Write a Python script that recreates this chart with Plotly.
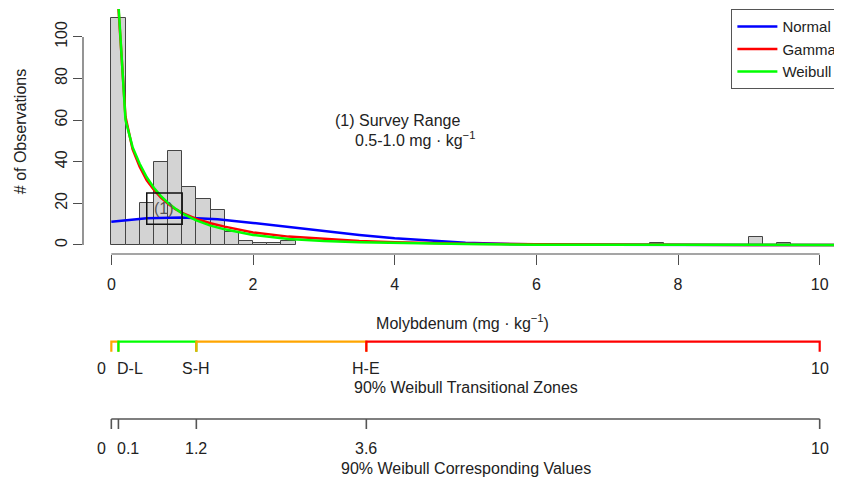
import plotly.graph_objects as go

# ---------------- data ----------------
BIN_W = 0.2
bin_left = [0.0, 0.2, 0.4, 0.6, 0.8, 1.0, 1.2, 1.4, 1.6, 1.8, 2.0, 2.2, 2.4, 7.6, 9.0, 9.4]
counts   = [109, 12, 20, 40, 45, 28, 22, 17, 6, 2, 1, 1, 2, 1, 4, 1]

normal_x = [0, 0.5, 1.0, 1.5, 2.0, 2.5, 3.0, 3.5, 4.0, 4.5, 5.0, 5.5, 6.0, 6.5, 7.0, 8.0, 9.0, 10.3]
normal_y = [11.2, 12.8, 13.2, 12.3, 10.6, 8.6, 6.6, 4.8, 3.2, 2.0, 1.1, 0.55, 0.25, 0.1, 0.04, 0, 0, 0]

skew_x    = [0.1, 0.2, 0.3, 0.4, 0.5, 0.6, 0.7, 0.8, 0.9, 1.0, 1.2, 1.4, 1.6, 1.8, 2.0,
             2.5, 3.0, 3.5, 4.0, 4.5, 5.0, 6.0, 7.0, 8.0, 9.0, 10.3]
gamma_y   = [114, 61.6, 46, 37.6, 31, 26.5, 22.8, 19.8, 17.3, 15.4, 12.5, 10.4, 8.8, 7.3, 6.0,
             4.0, 2.8, 1.9, 1.3, 0.9, 0.6, 0.3, 0.12, 0.05, 0.02, 0]
weibull_y = [116, 60, 47, 39, 32.5, 27.5, 23.5, 20.2, 17.5, 15.2, 11.8, 9.3, 7.5, 6.0, 4.8,
             2.9, 1.9, 1.3, 0.9, 0.6, 0.4, 0.15, 0.06, 0.02, 0.01, 0]

x_ticks = [0, 2, 4, 6, 8, 10]
y_ticks = [0, 20, 40, 60, 80, 100]

survey_range = [0.5, 1.0]        # mg/kg, box (1)
survey_box_counts = [10, 25]

zone_bounds = [0, 0.1, 1.2, 3.6, 10]
zone_colors = ['#FFA500', '#00FF00', '#FFA500', '#FF0000']
zone_labels = ['0', 'D-L', 'S-H', 'H-E', '10']
value_labels = ['0', '0.1', '1.2', '3.6', '10']

# ---------------- figure ----------------
FONT = 'Liberation Sans, Arial, Helvetica, sans-serif'
TXT = '#222222'
AX = '#4d4d4d'
FS = 16
Y_LO, Y_HI = -4.36, 113.4
X_LO, X_HI = -0.4, 10.315
MAIN_BOTTOM = 0.4787

fig = go.Figure()
fig.add_trace(go.Bar(
    x=[b + BIN_W / 2 for b in bin_left], y=counts, width=BIN_W,
    marker=dict(color='#D3D3D3', line=dict(color='#444444', width=1)),
    showlegend=False, hoverinfo='skip'))

fig.add_trace(go.Scatter(x=normal_x, y=normal_y, mode='lines', name='Normal',
                         line=dict(color='#0000FF', width=2.5)))
fig.add_trace(go.Scatter(x=skew_x, y=gamma_y, mode='lines', name='Gamma',
                         line=dict(color='#FF0000', width=2.5)))
fig.add_trace(go.Scatter(x=skew_x, y=weibull_y, mode='lines', name='Weibull',
                         line=dict(color='#00FF00', width=2.5)))

# ---- lower strips (y2 in negative pixel units) ----
ZL, ZT = -341.7, -351.7          # zone line / tick end
VL, VT = -419.0, -429.0          # value line / tick end
for i, col in enumerate(zone_colors):
    a, b = zone_bounds[i], zone_bounds[i + 1]
    fig.add_trace(go.Scatter(x=[a, a, b, b], y=[ZT, ZL, ZL, ZT], mode='lines',
                             xaxis='x2', yaxis='y2', showlegend=False, hoverinfo='skip',
                             line=dict(color=col, width=2.2)))
vx, vy = [zone_bounds[0], zone_bounds[-1], None], [VL, VL, None]
for b in zone_bounds:
    vx += [b, b, None]
    vy += [VL, VT, None]
fig.add_trace(go.Scatter(x=vx, y=vy, mode='lines', xaxis='x2', yaxis='y2',
                         showlegend=False, hoverinfo='skip',
                         line=dict(color='#555555', width=1.6)))

annotations = []
for i, (zl, vl) in enumerate(zip(zone_labels, value_labels)):
    b = zone_bounds[i]
    if i == 0:
        xa, xp = 'right', b - 0.05
    elif i == 1:
        xa, xp = 'left', b - 0.05
    else:
        xa, xp = 'center', b
    annotations.append(dict(x=xp, y=-368.5, xref='x2', yref='y2', text=zl, showarrow=False,
                            xanchor=xa, yanchor='middle', font=dict(size=FS, color=TXT)))
    annotations.append(dict(x=xp, y=-448.3, xref='x2', yref='y2', text=vl, showarrow=False,
                            xanchor=xa, yanchor='middle', font=dict(size=FS, color=TXT)))
annotations.append(dict(x=5, y=-387, xref='x2', yref='y2', text='90% Weibull Transitional Zones',
                        showarrow=False, xanchor='center', yanchor='middle', font=dict(size=FS, color=TXT)))
annotations.append(dict(x=5, y=-468.3, xref='x2', yref='y2', text='90% Weibull Corresponding Values',
                        showarrow=False, xanchor='center', yanchor='middle', font=dict(size=FS, color=TXT)))

# survey range text + box label
annotations.append(dict(x=3.126, y=59.7, xref='x', yref='y', text='(1) Survey Range',
                        showarrow=False, xanchor='left', yanchor='middle', font=dict(size=FS, color=TXT)))
annotations.append(dict(x=3.408, y=50.9, xref='x', yref='y', text='0.5-1.0 mg · kg<sup>−1</sup>',
                        showarrow=False, xanchor='left', yanchor='middle', font=dict(size=FS, color=TXT)))
annotations.append(dict(x=sum(survey_range) / 2, y=sum(survey_box_counts) / 2, xref='x', yref='y',
                        text='(1)', showarrow=False, font=dict(size=FS, color='#555555')))

shapes = [
    dict(type='line', xref='paper', x0=0, x1=0, yref='y', y0=y_ticks[0], y1=y_ticks[-1],
         line=dict(color=AX, width=1.2)),
    dict(type='line', xref='x', x0=x_ticks[0], x1=x_ticks[-1], yref='paper', y0=MAIN_BOTTOM, y1=MAIN_BOTTOM,
         line=dict(color=AX, width=1.2)),
    dict(type='rect', xref='x', yref='y', x0=survey_range[0], x1=survey_range[1],
         y0=survey_box_counts[0], y1=survey_box_counts[1], line=dict(color='#111111', width=1.5)),
]

fig.update_layout(
    width=842, height=479,
    margin=dict(l=75, r=8, t=1, b=8, pad=0, autoexpand=False),
    paper_bgcolor='white', plot_bgcolor='white',
    font=dict(family=FONT, size=FS, color=TXT),
    bargap=0,
    xaxis=dict(domain=[0, 1], range=[X_LO, X_HI], anchor='y', tickvals=x_ticks, automargin=False,
               ticks='outside', ticklen=10, tickwidth=1.2, tickcolor=AX,
               showline=False, showgrid=False, zeroline=False, ticklabelstandoff=6,
               tickfont=dict(size=FS, color=TXT),
               title=dict(text='Molybdenum (mg · kg<sup>−1</sup>)', standoff=25,
                          font=dict(size=FS, color=TXT))),
    yaxis=dict(domain=[MAIN_BOTTOM, 1], range=[Y_LO, Y_HI], anchor='x', tickvals=y_ticks, automargin=False,
               ticks='outside', ticklen=9, tickwidth=1.2, tickcolor=AX, tickangle=-90,
               showline=False, showgrid=False, zeroline=False,
               tickfont=dict(size=FS, color=TXT),
               title=dict(text='# of Observations', standoff=21, font=dict(size=FS, color=TXT))),
    xaxis2=dict(domain=[0, 1], range=[X_LO, X_HI], anchor='y2', visible=False, automargin=False),
    yaxis2=dict(domain=[0, 0.44], range=[-479, -272.2], anchor='x2', visible=False, automargin=False),
    legend=dict(x=0.854, y=1, xanchor='left', yanchor='top', bgcolor='white',
                bordercolor='#555555', borderwidth=1.2, font=dict(size=15, color=TXT),
                tracegroupgap=0, itemwidth=40),
    annotations=annotations, shapes=shapes,
)

fig.write_html('out.html')
